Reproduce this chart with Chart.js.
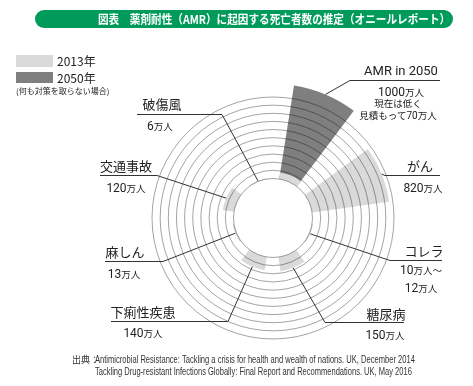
<!DOCTYPE html>
<html>
<head>
<meta charset="utf-8">
<script src="https://cdn.jsdelivr.net/npm/chart.js@4.4.1/dist/chart.umd.min.js"></script>
<style>
body{margin:0;background:#fff;font-family:"Noto Sans CJK JP","Noto Sans",sans-serif;color:#222}
#wrap{position:relative;width:473px;height:386px;overflow:hidden}
#chart{position:absolute;left:0;top:0;width:473px;height:386px}
#title{position:absolute;left:35px;top:10px;width:418px;height:18px;border-radius:9px;background:#009a5b}
#title span{position:absolute;left:63px;top:0;line-height:18px;font-size:12px;font-weight:bold;color:#fff;white-space:nowrap;transform-origin:0 50%}
.box{position:absolute;left:16px;width:37px}
.leg{position:absolute;left:57px;font-size:12px;line-height:1;transform:translateY(-50%)}
.lbl{position:absolute;transform:translate(-50%,-50%);white-space:nowrap;line-height:1.05;text-align:center}
.nm{font-size:13px}
.num{font-family:"Liberation Sans Narrow","Roboto",sans-serif;font-size:12px}
.u{font-size:9.5px}
.note{font-size:9.5px;line-height:1.3}
.src{position:absolute;font-family:"Liberation Sans Narrow","Liberation Sans",sans-serif;font-size:10px;color:#333;white-space:nowrap;transform-origin:0 50%;line-height:12px}
</style>
</head>
<body>
<div id="wrap">
  <canvas id="chart" width="473" height="386"></canvas>
  <div id="title"><span id="titleText">図表　薬剤耐性（AMR）に起因する死亡者数の推定（オニールレポート）</span></div>
  <div class="box" style="top:55px;height:12px;background:#dadada"></div>
  <div class="leg" style="top:61px">2013年</div>
  <div class="box" style="top:72px;height:11px;background:#7f7f7f"></div>
  <div class="leg" style="top:78px">2050年</div>
  <div class="leg" style="left:16px;top:91px;font-size:8px">(何も対策を取らない場合)</div>
  <div class="src" style="left:72px;top:354px;font-family:'Noto Sans CJK JP';font-size:9px">出典：</div>
  <div class="src" id="src1" style="left:95px;top:354px">Antimicrobial Resistance: Tackling a crisis for health and wealth of nations. UK, December 2014</div>
  <div class="src" id="src2" style="left:95px;top:366px">Tackling Drug-resistant Infections Globally: Final Report and Recommendations. UK, May 2016</div>
</div>
<script>
var categories = ['AMR in 2050', 'がん', 'コレラ', '糖尿病', '下痢性疾患', '麻しん', '交通事故', '破傷風'];
var deaths2013 = [70, 820, 11, 150, 140, 13, 120, 6];     // 万人
var deaths2050 = [1000, null, null, null, null, null, null, null];
var valueText = ['1000', '820', '10', '150', '140', '13', '120', '6'];

// label layout: name centre, value centre, underline [farX, nearX, y]
var callouts = [
  {name: [401, 71], value: [401, 90], line: [440, 350, 80]},
  {name: [420, 166], value: [423, 186], line: [440, 385, 175]},
  {name: [424, 251], value: [421, 277], line: [442, 390, 260]},
  {name: [386, 314], value: [385, 333], line: [404, 325, 322]},
  {name: [143, 312], value: [143, 331], line: [111, 228, 321]},
  {name: [125, 252], value: [124, 272], line: [105, 163, 261]},
  {name: [126, 166], value: [126, 186], line: [100, 157, 175]},
  {name: [162, 104], value: [160, 124], line: [137, 222, 114]}
];

var wrap = document.getElementById('wrap');
categories.forEach(function(c, i) {
  var co = callouts[i];
  var n = document.createElement('div');
  n.className = 'lbl nm';
  if (i === 0) { n.className += ' num'; n.style.fontSize = '13px'; }
  n.style.left = co.name[0] + 'px'; n.style.top = co.name[1] + 'px';
  n.textContent = c;
  wrap.appendChild(n);
  var v = document.createElement('div');
  v.className = 'lbl';
  v.style.left = co.value[0] + 'px'; v.style.top = co.value[1] + 'px';
  var html = '<span class="num">' + valueText[i] + '</span><span class="u">万人</span>';
  if (i === 2) html += '<span class="u">～</span><br><span class="num">12</span><span class="u">万人</span>';
  v.innerHTML = html;
  wrap.appendChild(v);
});
var note = document.createElement('div');
note.className = 'lbl note';
note.style.left = '398px'; note.style.top = '110px';
note.innerHTML = '現在は低く<br>見積もって<span class="num" style="font-size:10px">70</span>万人';
wrap.appendChild(note);

function fitWidth(id, w) {
  var el = document.getElementById(id);
  el.style.transform = 'scaleX(' + (w / el.offsetWidth) + ')';
}
fitWidth('titleText', 352);
fitWidth('src1', 320);
fitWidth('src2', 317);

// 16 slots: each category followed by a blank gap
var slotLabels = [], slots2013 = [], slots2050 = [];
categories.forEach(function(c, i) {
  slotLabels.push(c, '');
  slots2013.push(deaths2013[i], null);
  slots2050.push(deaths2050[i], null);
});
function slotAngle(ctx) { return ctx.dataIndex % 2 ? 17 : 28; }

var holePlugin = {
  id: 'hole',
  afterDatasetsDraw: function(chart) {
    var s = chart.scales.r, ctx = chart.ctx;
    ctx.save();
    ctx.fillStyle = '#fff';
    ctx.beginPath();
    ctx.arc(s.xCenter, s.yCenter, s.getDistanceFromCenterForValue(0), 0, Math.PI * 2);
    ctx.fill();
    ctx.restore();
  },
  afterDraw: function(chart) {
    var ctx = chart.ctx;
    var m0 = chart.getDatasetMeta(0), m1 = chart.getDatasetMeta(1);
    ctx.save();
    ctx.strokeStyle = '#333';
    ctx.lineWidth = 1;
    callouts.forEach(function(co, i) {
      var a = m0.data[i * 2], b = m1.data[i * 2];
      var r = a.outerRadius;
      if (isFinite(b.outerRadius) && b.outerRadius > r) r = b.outerRadius;
      var ang = (a.startAngle + a.endAngle) / 2;
      var px = a.x + r * Math.cos(ang), py = a.y + r * Math.sin(ang);
      ctx.beginPath();
      ctx.moveTo(co.line[0], co.line[2] + 0.5);
      ctx.lineTo(co.line[1], co.line[2] + 0.5);
      ctx.lineTo(px, py);
      ctx.stroke();
    });
    ctx.restore();
  }
};

new Chart(document.getElementById('chart'), {
  type: 'polarArea',
  data: {
    labels: slotLabels,
    datasets: [
      {
        label: '2013年',
        data: slots2013,
        backgroundColor: function(ctx) { return ctx.dataIndex % 2 ? 'rgba(0,0,0,0)' : '#dadada'; },
        borderWidth: 0,
        angle: slotAngle
      },
      {
        label: '2050年',
        data: slots2050,
        backgroundColor: function(ctx) { return ctx.dataIndex % 2 ? 'rgba(0,0,0,0)' : '#7f7f7f'; },
        borderWidth: 0,
        angle: slotAngle
      }
    ]
  },
  options: {
    responsive: false,
    animation: false,
    layout: {padding: {left: 152, right: 79, top: 97, bottom: 47}},
    plugins: {legend: {display: false}, tooltip: {enabled: false}},
    scales: {
      r: {
        startAngle: 9,
        min: -417,
        max: 860,
        ticks: {display: false, stepSize: 86, z: 1},
        grid: {
          z: 1,
          lineWidth: 1,
          color: function(ctx) { return ctx.tick && ctx.tick.value >= 0 ? 'rgba(0,0,0,0.36)' : 'rgba(0,0,0,0)'; }
        },
        angleLines: {display: false},
        pointLabels: {display: false}
      }
    }
  },
  plugins: [holePlugin]
});
</script>
</body>
</html>
